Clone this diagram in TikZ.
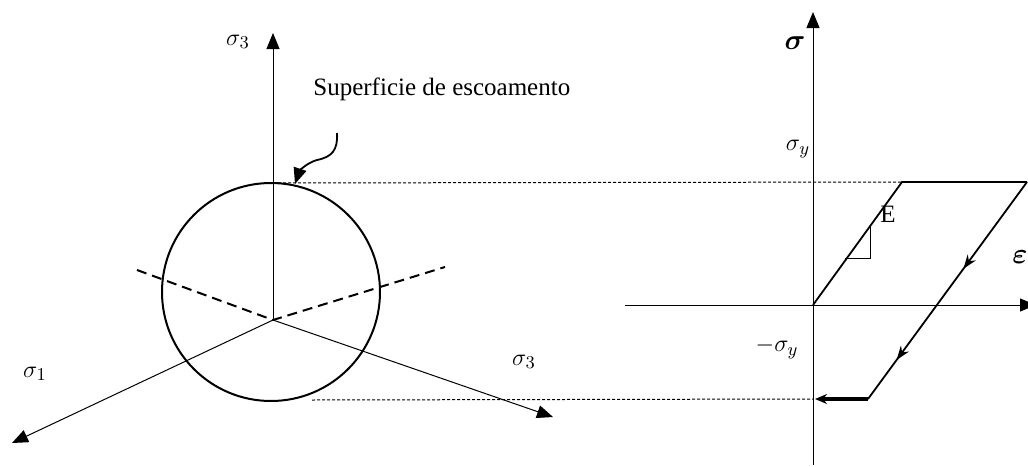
\documentclass[tikz,border=0pt]{standalone}
\usepackage{amsmath,amssymb}
\usepackage{fontspec}
\setmainfont{Liberation Serif}
\usepackage{tikz}
\usetikzlibrary{arrows.meta,positioning,calc,decorations.markings}

\begin{document}
\begin{tikzpicture}[x=0.5pt,y=-0.5pt,>={Triangle[length=8pt,width=6.5pt]},
  axis/.style={->,line width=0.5pt},
  guide/.style={line width=0.5pt,dash pattern=on 1.5pt off 1pt},
  hidden/.style={line width=1pt,dash pattern=on 5pt off 3pt},
  lbl/.style={inner sep=0pt,font=\fontsize{12.5}{15}\selectfont},
  blbl/.style={inner sep=0pt,font=\fontsize{15}{18}\selectfont}]
  \useasboundingbox (0,0) rectangle (1028,466);
  % left: principal stress space
  \coordinate (O) at (273,320);
  \coordinate (C) at (271,292);
  \coordinate (s3top) at (273,33);
  \coordinate (s1end) at (12,443);
  \coordinate (s3end) at (553,417);
  \coordinate (hl) at (137,270);
  \coordinate (hr) at (445,267);
  \coordinate (ctop) at (273,183);
  \coordinate (cbot) at (312,400);
  \coordinate (surf) at (295,184);
  \coordinate (tail) at (337,133);
  \draw[line width=1pt] (C) circle[radius=109];
  \draw[axis] (O) -- (s3top);
  \draw[axis] (O) -- (s1end);
  \draw[axis] (O) -- (s3end);
  \draw[hidden] (hl) -- (O) -- (hr);
  \draw[line width=0.9pt,->] (tail) .. controls (338,150) and (332,157) .. (317,160)
    .. controls (306,163) and (299,172) .. (surf);
  \node[lbl] (ls3) at (238,42) {$\sigma_3$};
  \node[lbl] (ls1) at (35,374) {$\sigma_1$};
  \node[lbl] (ls3b) at (524,362) {$\sigma_3$};
  \node[lbl,anchor=west] (lsup) at (313,89) {Superficie de escoamento};
  % right: stress-strain curve
  \coordinate (P) at (813,305);
  \coordinate (vb) at (813,465);
  \coordinate (vt) at (813,12);
  \coordinate (hl2) at (625,305);
  \coordinate (hr2) at (1036,305);
  \coordinate (sy) at (902,182);
  \coordinate (syr) at (1027,182);
  \coordinate (msy) at (868,399);
  \coordinate (msyl) at (815,399);
  \draw[axis] (vb) -- (vt);
  \draw[axis] (hl2) -- (hr2);
  \draw[line width=0.9pt] (P) -- (sy) -- (syr);
  \draw[line width=0.9pt,postaction={decorate},decoration={markings,
    mark=at position 0.4 with {\arrow{Stealth[length=7pt,width=5pt]}},
    mark=at position 0.82 with {\arrow{Stealth[length=7pt,width=5pt]}}}] (syr) -- (msy);
  \draw[line width=1.6pt,-{Stealth[length=6pt,width=5pt]}] (msy) -- (msyl);
  \draw[line width=0.4pt] (845,258) -- (870,258) -- (870,226);
  \draw[guide] (ctop) -- (sy);
  \draw[guide] (cbot) -- (P |- msy);
  \node[blbl] (lsig) at (795,43) {$\boldsymbol{\sigma}$};
  \node[lbl] (lsy) at (798,149) {$\sigma_y$};
  \node[lbl] (lmsy) at (777,348) {$-\sigma_y$};
  \node[lbl] (lE) at (888,214) {E};
  \node[blbl,anchor=east] (leps) at (1028,257) {$\boldsymbol{\varepsilon}$};
\end{tikzpicture}
\end{document}
